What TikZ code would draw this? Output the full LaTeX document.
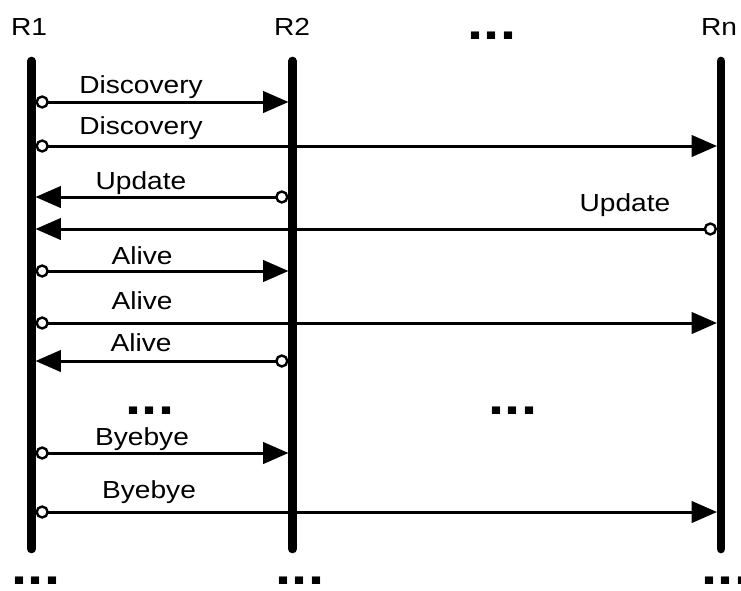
\documentclass[tikz,border=0pt]{standalone}
\usepackage{fontspec}
\setmainfont{Liberation Sans}[FakeStretch=1.14]
\usetikzlibrary{arrows.meta}

\begin{document}
\begin{tikzpicture}[x=0.75pt, y=-0.75pt,
  life/.style={line width=6.5pt, line cap=round},
  msg/.style={line width=2.25pt, {Circle[open, fill=white, line width=1.8pt, length=10pt]}-{Triangle[length=19pt, width=16pt]}},
  lbl/.style={font=\fontsize{18.5}{20}\selectfont, anchor=base, inner sep=0pt},
  dots/.style={font=\fontsize{38}{38}\selectfont\bfseries, anchor=base, inner sep=0pt, text depth=0pt}]
\useasboundingbox (0,0) rectangle (741,590);

% routers
\node[lbl](h1) at (29, 35) {R1};
\node[lbl](h2) at (292, 35) {R2};
\node[dots](hd) at (492, 39) {...};
\node[lbl](hn) at (719, 35) {Rn};

\coordinate(r1top) at (31.5, 61);
\coordinate(r1bot) at (31.5, 549);
\coordinate(r2top) at (292.5, 61);
\coordinate(r2bot) at (292.5, 549);
\coordinate(rntop) at (721, 61);
\coordinate(rnbot) at (721, 549);

\draw[life] (r1top) -- (r1bot);
\draw[life] (r2top) -- (r2bot);
\draw[life] (rntop) -- (rnbot);

% messages
\coordinate(s1) at (35.5, 102);
\coordinate(e1) at (288.5, 102);
\coordinate(s2) at (35.5, 146);
\coordinate(e2) at (717, 146);
\coordinate(s3) at (288.5, 197);
\coordinate(e3) at (35.5, 197);
\coordinate(s4) at (717, 229);
\coordinate(e4) at (35.5, 229);
\coordinate(s5) at (35.5, 271);
\coordinate(e5) at (288.5, 271);
\coordinate(s6) at (35.5, 323);
\coordinate(e6) at (717, 323);
\coordinate(s7) at (288.5, 361);
\coordinate(e7) at (35.5, 361);
\coordinate(s8) at (35.5, 453);
\coordinate(e8) at (288.5, 453);
\coordinate(s9) at (35.5, 512);
\coordinate(e9) at (717, 512);

\draw[msg] (s1) -- (e1);
\draw[msg] (s2) -- (e2);
\draw[msg] (s3) -- (e3);
\draw[msg] (s4) -- (e4);
\draw[msg] (s5) -- (e5);
\draw[msg] (s6) -- (e6);
\draw[msg] (s7) -- (e7);
\draw[msg] (s8) -- (e8);
\draw[msg] (s9) -- (e9);

\node[lbl](l1) at (141, 93) {Discovery};
\node[lbl](l2) at (141, 134) {Discovery};
\node[lbl](l3) at (141, 189) {Update};
\node[lbl](l4) at (625, 211) {Update};
\node[lbl](l5) at (142, 264) {Alive};
\node[lbl](l6) at (142, 309) {Alive};
\node[lbl](l7) at (141, 351) {Alive};
\node[lbl](l8) at (142, 445) {Byebye};
\node[lbl](l9) at (149, 498) {Byebye};

% more
\node[dots](d1) at (150, 414) {...};
\node[dots](d2) at (513, 414) {...};
\node[dots](d3) at (36, 584) {...};
\node[dots](d4) at (300, 584) {...};
\node[dots](d5) at (726, 584) {...};

\end{tikzpicture}
\end{document}
